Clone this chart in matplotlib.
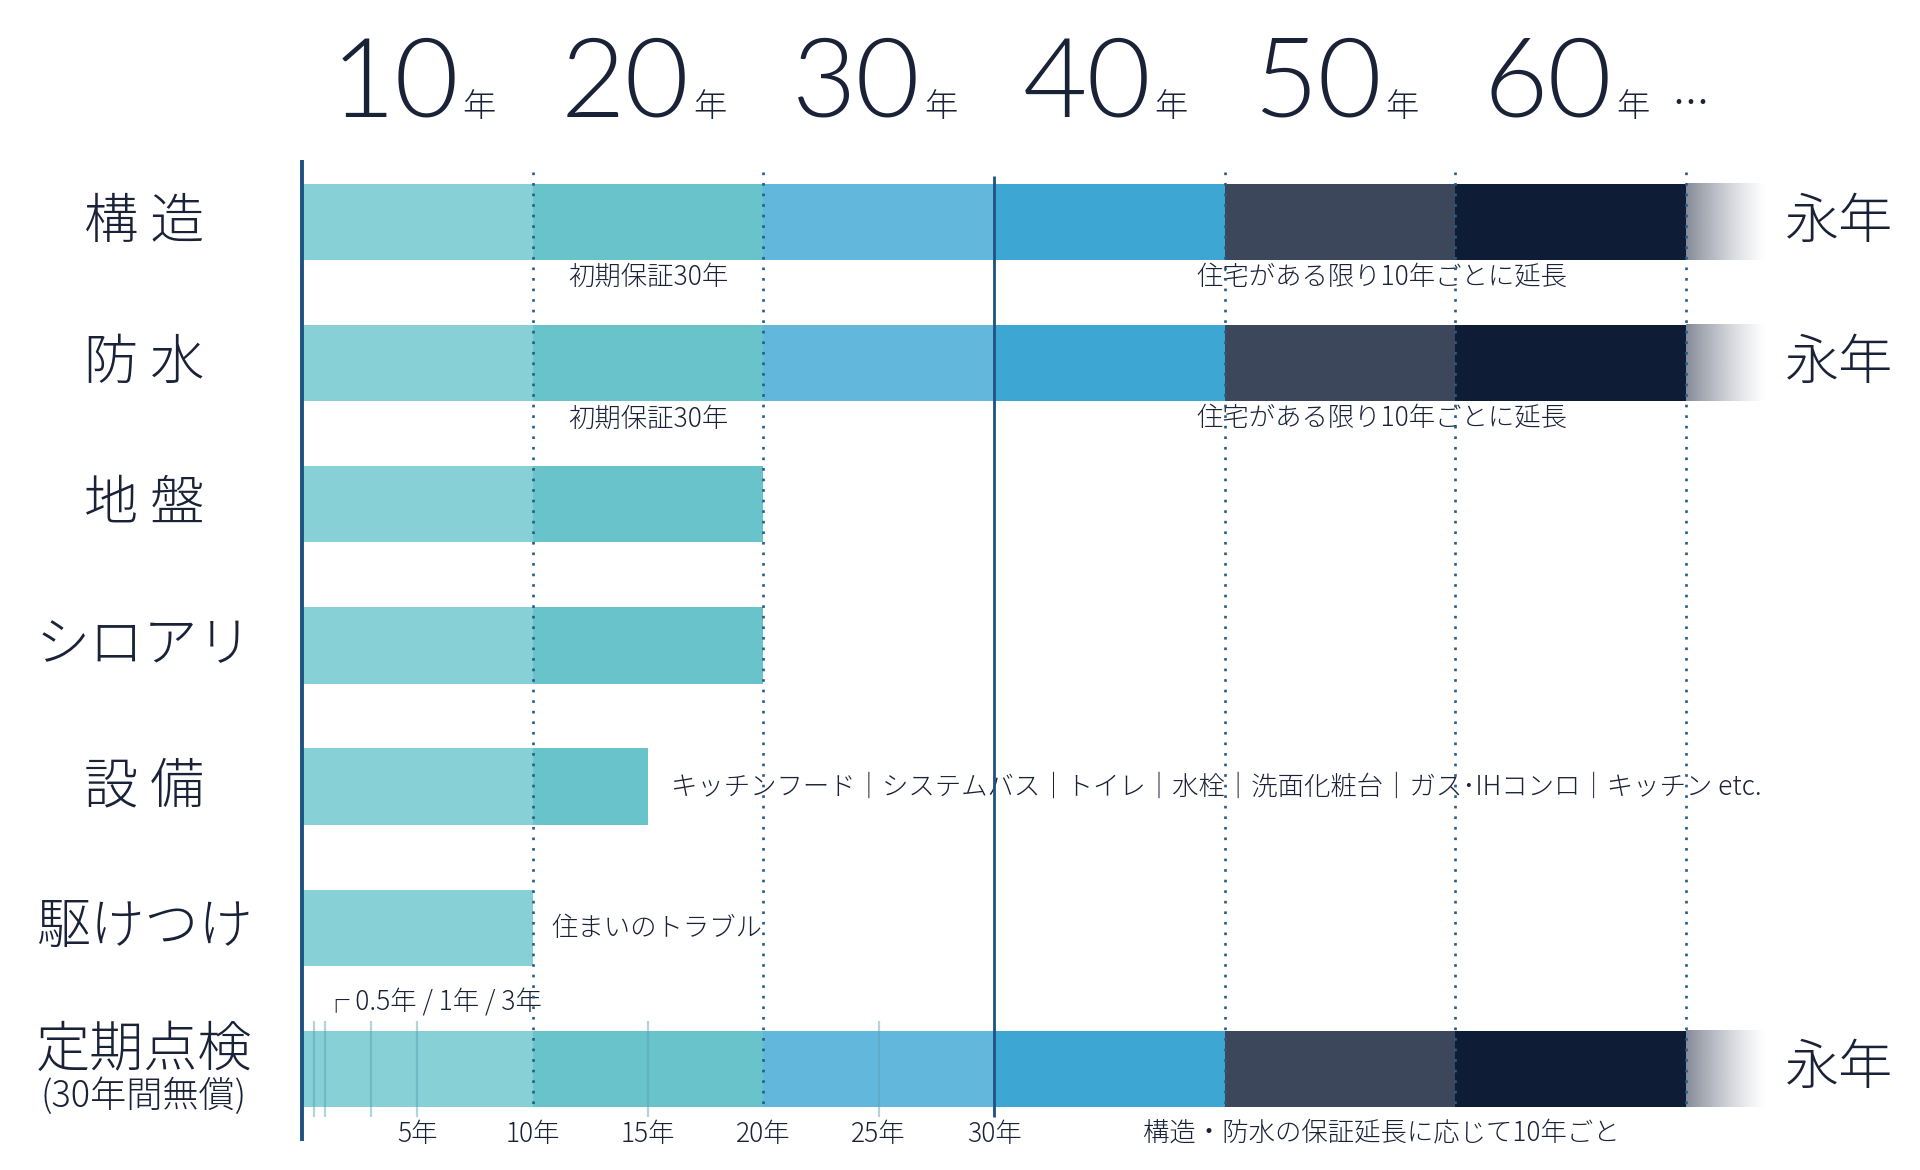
import numpy as np
import matplotlib
matplotlib.use('Agg')
import matplotlib.pyplot as plt
from matplotlib.colors import to_rgb

plt.rcParams['font.family'] = ['Noto Sans CJK JP', 'DejaVu Sans']

# data
categories = ['構 造', '防 水', '地 盤', 'シロアリ', '設 備', '駆けつけ', '定期点検']
coverage = [60, 60, 20, 20, 15, 10, 60]
eternal = [True, True, False, False, False, False, True]
seg_edges = [0, 10, 20, 30, 40, 50, 60]
seg_colors = ['#86d0d6', '#68c3ca', '#62b8dc', '#3ea6d3', '#3c475c', '#0f1c36']
fade_end = 63.5
header_years = [10, 20, 30, 40, 50, 60]
dotted_years = [10, 20, 40, 50, 60]
solid_year = 30
inspect_years = [0.5, 1, 3, 5, 15, 25]
bottom_ticks = [5, 10, 15, 20, 25, 30]
equip_items = ['キッチンフード', 'システムバス', 'トイレ', '水栓', '洗面化粧台', 'ガス･IHコンロ', 'キッチン etc.']

TXT = '#1a2238'
LINE = '#1d5282'

fig = plt.figure(figsize=(19.2, 11.7), dpi=100)
ax = fig.add_axes([0, 0, 1, 1])
ax.set_xlim(-13.1, 70.15)
ax.set_ylim(6.717, -1.574)
ax.axis('off')

bar_h = 0.54
for i, (cat, cov) in enumerate(zip(categories, coverage)):
    for k in range(len(seg_edges) - 1):
        a, b = seg_edges[k], min(seg_edges[k + 1], cov)
        if b <= a:
            continue
        ax.barh(i, b - a, left=a, height=bar_h, color=seg_colors[k], zorder=2)
    if eternal[i]:
        # fade out beyond 60 years
        rgb = to_rgb('#0f1c36')
        grad = np.zeros((1, 256, 4))
        grad[0, :, :3] = rgb
        grad[0, :, 3] = np.linspace(0.6, 0.0, 256) ** 1.3
        ax.imshow(grad, extent=[cov, fade_end, i + bar_h / 2, i - bar_h / 2],
                  aspect='auto', zorder=2, interpolation='bilinear')
    if cat == '定期点検':
        ax.text(-6.86, i - 0.13, cat, ha='center', va='center', fontsize=39,
                color=TXT, fontweight='light')
        ax.text(-6.86, i + 0.2, '(30年間無償)', ha='center', va='center',
                fontsize=26, color=TXT, fontweight='light')
    else:
        ax.text(-6.86, i, cat, ha='center', va='center', fontsize=39,
                color=TXT, fontweight='light')
    if eternal[i]:
        ax.text(64.3, i, '永年', ha='left', va='center', fontsize=39,
                color=TXT, fontweight='light')

# inspection ticks in the last row
last = len(categories) - 1
ax.vlines(inspect_years, last - 0.34, last + 0.34, color='#5a9fb0', alpha=0.45,
          lw=1.6, zorder=3)

# guide lines
ax.vlines(dotted_years, -0.357, 6.30, color='#245c88', lw=1.9,
          linestyles=(0, (1, 3)), zorder=4)
ax.vlines(solid_year, -0.33, 6.34, color=LINE, lw=2.0, zorder=4)
ax.vlines(0, -0.443, 6.513, color=LINE, lw=2.8, zorder=5)

# header
for yr in header_years:
    xr = yr - 10 + 6.81
    ax.text(xr, -0.748, str(yr), ha='right', va='baseline', fontsize=80,
            color=TXT, family=['Lato', 'DejaVu Sans'], fontweight=300)
    ax.text(xr + 0.15, -0.748, '年', ha='left', va='baseline', fontsize=24,
            color=TXT, fontweight='light')
ax.text(59.4, -0.76, '…', ha='left', va='baseline', fontsize=26, color=TXT)

# notes
small = dict(fontsize=19, color=TXT, fontweight='light')
for i in (0, 1):
    ax.text(15, i + 0.39, '初期保証30年', ha='center', va='center', **small)
    ax.text(46.8, i + 0.39, '住宅がある限り10年ごとに延長', ha='center', va='center', **small)
ax.text(16.0, 4, '｜'.join(equip_items), ha='left', va='center', **small)
ax.text(10.8, 5, '住まいのトラブル', ha='left', va='center', **small)
ax.text(0.9, 5.52, '┌ 0.5年 / 1年 / 3年', ha='left', va='center', **small)
for t in bottom_ticks:
    ax.text(t, 6.46, f'{t}年', ha='center', va='center', **small)
ax.text(46.8, 6.46, '構造・防水の保証延長に応じて10年ごと', ha='center', va='center', **small)

fig.savefig('out.png', dpi=100, facecolor='white')
